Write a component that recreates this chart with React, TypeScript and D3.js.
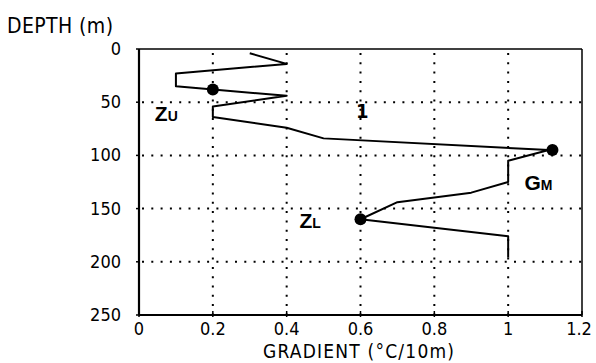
import React from "react";
import * as d3 from "d3";

// Temperature gradient profile vs depth
const gradient = [0.3, 0.4, 0.1, 0.1, 0.4, 0.2, 0.2, 0.4, 0.5, 1.11, 1.0, 1.0, 0.9, 0.7, 0.6, 1.0, 1.0];
const depth = [4, 14, 23, 35, 44, 54, 64, 74, 84, 95, 105, 125, 135, 144, 160, 176, 196];

// Marked levels: upper boundary, gradient maximum, lower boundary
const markerNames = ["ZU", "GM", "ZL"];
const markerGradient = [0.2, 1.12, 0.6];
const markerDepth = [38, 95, 160];

const xTicks = [0, 0.2, 0.4, 0.6, 0.8, 1, 1.2];
const yTicks = [0, 50, 100, 150, 200, 250];

const FONT = '"DejaVu Sans Condensed", "Liberation Sans Narrow", sans-serif';
const BOLD = '"Liberation Sans", Arial, sans-serif';

export default function App() {
  const W = 596;
  const H = 363;
  const x = d3.scaleLinear().domain([0, 1.2]).range([139, 582]);
  const y = d3.scaleLinear().domain([0, 250]).range([49, 315]);
  const [x0, x1] = x.range();
  const [y0, y1] = y.range();

  const line = d3
    .line<number>()
    .x((_, i) => x(gradient[i]))
    .y((d) => y(d));

  const dot = "2 7.3";

  const labelFor = (name: string, i: number) => {
    const px = x(markerGradient[i]);
    const py = y(markerDepth[i]);
    let lx = px;
    let ly = py;
    if (name === "ZU") {
      lx = px - 58;
      ly = py + 32;
    } else if (name === "GM") {
      lx = px - 28;
      ly = py + 40;
    } else {
      lx = px - 61;
      ly = py + 9;
    }
    return (
      <text key={name} x={lx} y={ly} fontFamily={BOLD} fontWeight="bold" fill="#000">
        <tspan fontSize={21}>{name[0]}</tspan>
        <tspan fontSize={14}>{name[1]}</tspan>
      </text>
    );
  };

  return (
    <svg
      width={W}
      height={H}
      style={{ position: "absolute", left: 0, top: 0, background: "#fff" }}
    >
      {/* dotted grid */}
      {yTicks.slice(1, -1).map((t) => (
        <line
          key={"gy" + t}
          x1={x0 + 3}
          x2={x1 + 6}
          y1={y(t)}
          y2={y(t)}
          stroke="#000"
          strokeWidth={2}
          strokeDasharray={dot}
        />
      ))}
      {xTicks.slice(1, -1).map((t) => (
        <line
          key={"gx" + t}
          x1={x(t)}
          x2={x(t)}
          y1={y0 + 4}
          y2={y1}
          stroke="#000"
          strokeWidth={2}
          strokeDasharray={dot}
        />
      ))}

      {/* frame */}
      <line x1={x0} x2={x1} y1={y0} y2={y0} stroke="#000" strokeWidth={1.5} />
      <line x1={x1} x2={x1} y1={y0} y2={y1} stroke="#000" strokeWidth={1.5} />
      <line x1={x0} x2={x0} y1={y0} y2={y1} stroke="#000" strokeWidth={2.2} />
      <line x1={x0} x2={x1} y1={y1} y2={y1} stroke="#000" strokeWidth={2.2} />
      {yTicks.map((t) => (
        <line key={"ty" + t} x1={x0 - 3} x2={x0} y1={y(t)} y2={y(t)} stroke="#000" strokeWidth={1.5} />
      ))}
      {xTicks.map((t) => (
        <line key={"tx" + t} x1={x(t)} x2={x(t)} y1={y1 - 4} y2={y1 + 2} stroke="#000" strokeWidth={1.5} />
      ))}

      {/* tick labels */}
      {yTicks.map((t) => (
        <text
          key={"ly" + t}
          x={121}
          y={y(t) + 6}
          textAnchor="end"
          fontFamily={FONT}
          fontSize={18}
          fill="#000"
        >
          {t}
        </text>
      ))}
      {xTicks.map((t) => (
        <text
          key={"lx" + t}
          x={x(t) - (t === 1.2 ? 3 : 0)}
          y={335}
          textAnchor="middle"
          fontFamily={FONT}
          fontSize={18}
          fill="#000"
        >
          {d3.format("~g")(t)}
        </text>
      ))}

      {/* axis titles */}
      <text x={7} y={33} fontFamily={FONT} fontSize={21} textLength={106} fill="#000">
        DEPTH (m)
      </text>
      <text x={263} y={358} fontFamily={FONT} fontSize={19} textLength={191} fill="#000">
        GRADIENT (°C/10m)
      </text>

      {/* profile */}
      <path d={line(depth) ?? ""} fill="none" stroke="#000" strokeWidth={2} strokeLinejoin="round" />
      {markerNames.map((n, i) => (
        <circle key={"m" + n} cx={x(markerGradient[i])} cy={y(markerDepth[i])} r={6} fill="#000" />
      ))}
      {markerNames.map((n, i) => labelFor(n, i))}

      <text x={356} y={118} fontFamily={FONT} fontWeight="bold" fontSize={20} fill="#000">
        1
      </text>
    </svg>
  );
}
